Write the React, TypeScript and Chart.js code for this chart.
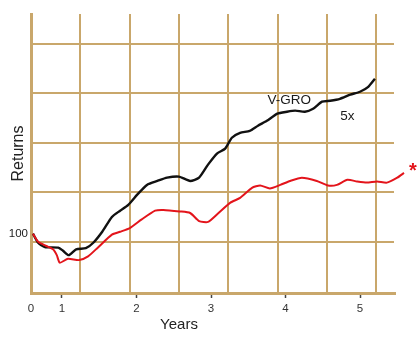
import React, { useEffect, useRef } from 'react';
import { Chart, registerables } from 'chart.js';

Chart.register(...registerables);

const FONT = '"Liberation Sans", Arial, Helvetica, sans-serif';
const GRID = '#c9a76b';

// ---- data ----
const yearTicks = [1, 2, 3, 4, 5];
const originLabel = '0';
const returnTicks = [100];

const vgroYears = [0.61, 0.68, 0.77, 0.95, 1.01, 1.09, 1.19, 1.32, 1.42, 1.54, 1.67, 1.78, 1.89, 2.01, 2.14, 2.28, 2.41, 2.57, 2.72, 2.84, 2.96, 3.08, 3.19, 3.28, 3.39, 3.52, 3.63, 3.75, 3.89, 4.02, 4.13, 4.26, 4.37, 4.49, 4.6, 4.73, 4.87, 5.0, 5.11, 5.2];
const vgroReturns = [100, 91, 87, 86.5, 84, 80, 85, 86, 91, 102, 119, 127, 135, 150, 166, 173, 179, 181, 173, 179, 205, 230, 242, 271, 285, 291, 307, 323, 348, 355, 359, 355, 366, 394, 398, 406, 424, 437, 460, 500];

const benchYears = [0.61, 0.68, 0.79, 0.88, 0.93, 0.97, 1.08, 1.23, 1.35, 1.48, 1.67, 1.78, 1.91, 2.07, 2.25, 2.36, 2.58, 2.72, 2.84, 2.96, 3.09, 3.26, 3.39, 3.55, 3.66, 3.79, 3.93, 4.06, 4.22, 4.42, 4.57, 4.69, 4.83, 4.96, 5.09, 5.23, 5.36, 5.5, 5.59];
const benchReturns = [100, 92, 88, 85, 80, 74, 77, 76, 79, 86.5, 99, 102, 106, 116, 127, 128, 126, 124, 114, 113, 123, 138, 145, 161, 165, 160, 166, 173, 179, 173, 165, 166, 175, 172, 170, 172, 170, 179, 188];

const xRange = [0.584, 5.456];
const yRange = [54, 980];

// background grid (independent square grid)
const gridColumns = [1, 2, 3, 4, 5, 6, 7];
const gridColumnRange = [0, 7.363];
const gridRows = [1, 2, 3, 4, 5];
const gridRowRange = [-0.04, 5.596];

// annotations (data coordinates)
const vgroLabel = { text: 'V-GRO', x: 4.05, y: 398 };
const multipleLabel = { text: '5x', x: 4.83, y: 337 };
const footnoteMark = { text: '*', x: 5.71, y: 190 };
const yearsTitle = { text: 'Years', x: 2.57 };

const textMarks = {
  id: 'textMarks',
  afterDatasetsDraw(chart: any) {
    const { ctx, chartArea } = chart;
    const x = chart.scales.x;
    const y = chart.scales.y;
    ctx.save();
    ctx.textAlign = 'center';
    ctx.textBaseline = 'middle';
    ctx.fillStyle = '#1a1a1a';
    ctx.font = `13.5px ${FONT}`;
    ctx.fillText(vgroLabel.text, x.getPixelForValue(vgroLabel.x), y.getPixelForValue(vgroLabel.y));
    ctx.fillText(multipleLabel.text, x.getPixelForValue(multipleLabel.x), y.getPixelForValue(multipleLabel.y));
    ctx.fillStyle = '#e3141b';
    ctx.font = `bold 20px ${FONT}`;
    ctx.fillText(footnoteMark.text, x.getPixelForValue(footnoteMark.x), y.getPixelForValue(footnoteMark.y));
    ctx.fillStyle = '#222';
    ctx.font = `15px ${FONT}`;
    ctx.fillText(yearsTitle.text, x.getPixelForValue(yearsTitle.x), chartArea.bottom + 32);
    ctx.restore();
  },
};

export default function App() {
  const ref = useRef<HTMLCanvasElement>(null);

  useEffect(() => {
    const chart = new Chart(ref.current as HTMLCanvasElement, {
      type: 'line',
      data: {
        datasets: [
          {
            label: 'Benchmark',
            data: benchYears.map((x, i) => ({ x, y: benchReturns[i] })),
            xAxisID: 'x',
            yAxisID: 'y',
            borderColor: '#e3141b',
            borderWidth: 2,
            pointRadius: 0,
            tension: 0.2,
            clip: false as any,
          },
          {
            label: 'V-GRO',
            data: vgroYears.map((x, i) => ({ x, y: vgroReturns[i] })),
            xAxisID: 'x',
            yAxisID: 'y',
            borderColor: '#111111',
            borderWidth: 2.4,
            pointRadius: 0,
            tension: 0.2,
            clip: false as any,
          },
        ],
      },
      options: {
        animation: false,
        responsive: false,
        maintainAspectRatio: false,
        layout: { padding: { top: 14, right: 26, left: 0, bottom: 0 } },
        plugins: { legend: { display: false }, tooltip: { enabled: false } },
        scales: {
          x: {
            type: 'linear',
            position: 'bottom',
            bounds: 'data',
            afterDataLimits: (s: any) => {
              s.min = xRange[0];
              s.max = xRange[1];
            },
            afterBuildTicks: (s: any) => {
              s.ticks = [xRange[0], ...yearTicks].map((value) => ({ value }));
            },
            afterFit: (s: any) => {
              s.height = 47;
            },
            grid: {
              display: true,
              drawOnChartArea: false,
              drawTicks: true,
              tickLength: 5,
              tickWidth: 1.5,
              tickColor: (c: any) => (c.index === 0 ? 'rgba(0,0,0,0)' : '#444'),
              color: GRID,
              lineWidth: 3,
            },
            border: { display: true, color: GRID, width: 3 },
            ticks: {
              autoSkip: false,
              maxRotation: 0,
              padding: 4,
              color: '#333',
              font: { family: FONT, size: 11.5 },
              callback: (v: any, i: number) => (i === 0 ? originLabel : String(v)),
            },
          },
          y: {
            type: 'logarithmic',
            position: 'left',
            min: yRange[0],
            max: yRange[1],
            bounds: 'data',
            afterBuildTicks: (s: any) => {
              s.ticks = returnTicks.map((value) => ({ value }));
            },
            afterFit: (s: any) => {
              s.width = 31;
            },
            grid: { display: true, drawOnChartArea: false, drawTicks: false, color: GRID, lineWidth: 3 },
            border: { display: true, color: GRID, width: 3 },
            ticks: {
              padding: 3,
              color: '#222',
              font: { family: FONT, size: 11.5 },
              callback: (v: any) => String(v),
            },
            title: {
              display: true,
              text: 'Returns',
              color: '#222',
              font: { family: FONT, size: 16 },
              padding: { top: 9, bottom: 0 },
            },
          },
          xg: {
            type: 'linear',
            position: 'bottom',
            min: gridColumnRange[0],
            max: gridColumnRange[1],
            bounds: 'data',
            afterBuildTicks: (s: any) => {
              s.ticks = gridColumns.map((value) => ({ value }));
            },
            afterFit: (s: any) => {
              s.height = 0;
            },
            grid: { color: GRID, lineWidth: 2, drawTicks: false },
            border: { display: false },
            ticks: { display: false },
          },
          yg: {
            type: 'linear',
            position: 'left',
            min: gridRowRange[0],
            max: gridRowRange[1],
            bounds: 'data',
            afterBuildTicks: (s: any) => {
              s.ticks = gridRows.map((value) => ({ value }));
            },
            afterFit: (s: any) => {
              s.width = 0;
            },
            grid: { color: GRID, lineWidth: 2, drawTicks: false },
            border: { display: false },
            ticks: { display: false },
          },
        },
      } as any,
      plugins: [textMarks],
    });
    return () => chart.destroy();
  }, []);

  return (
    <div style={{ position: 'absolute', left: 0, top: 0, width: 420, height: 340, background: '#fff' }}>
      <canvas ref={ref} width={420} height={340} style={{ display: 'block' }} />
    </div>
  );
}
